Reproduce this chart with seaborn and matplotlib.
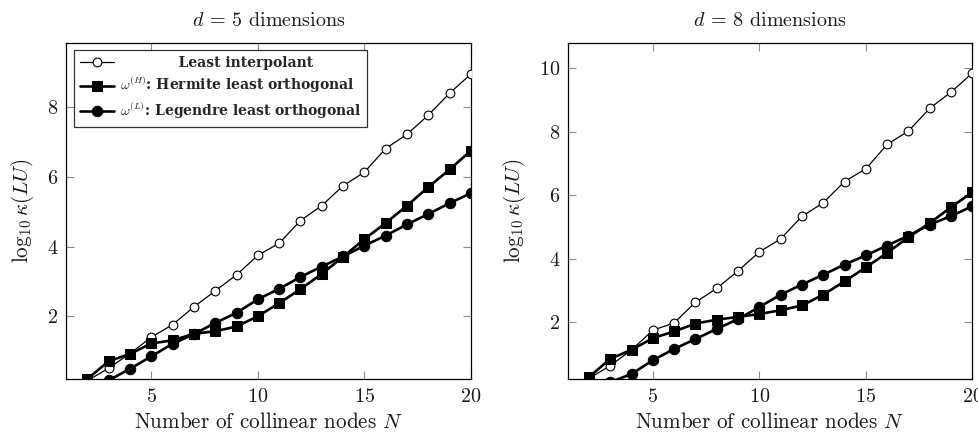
import matplotlib
matplotlib.use("Agg")
import matplotlib.pyplot as plt
import seaborn as sns
import pandas as pd

# ---------------- data ----------------
N = list(range(2, 21))
d5_interp = [0.15, 0.51, 0.93, 1.40, 1.76, 2.27, 2.73, 3.19, 3.75, 4.10,
             4.75, 5.18, 5.75, 6.14, 6.82, 7.23, 7.78, 8.41, 8.96]
d5_hermite = [0.20, 0.71, 0.92, 1.22, 1.31, 1.50, 1.57, 1.71, 2.00, 2.38,
              2.78, 3.22, 3.71, 4.22, 4.68, 5.18, 5.71, 6.22, 6.76]
d5_legendre = [-0.15, 0.16, 0.49, 0.85, 1.21, 1.49, 1.81, 2.10, 2.49, 2.79,
               3.13, 3.43, 3.72, 4.03, 4.32, 4.64, 4.94, 5.25, 5.54]

d8_interp = [0.22, 0.62, 1.12, 1.74, 1.97, 2.62, 3.06, 3.61, 4.21, 4.62,
             5.33, 5.76, 6.43, 6.83, 7.60, 8.02, 8.74, 9.25, 9.85]
d8_hermite = [0.26, 0.84, 1.12, 1.49, 1.70, 1.95, 2.07, 2.16, 2.25, 2.37,
              2.52, 2.86, 3.28, 3.72, 4.18, 4.67, 5.12, 5.62, 6.09]
d8_legendre = [-0.30, 0.10, 0.36, 0.79, 1.15, 1.46, 1.78, 2.09, 2.47, 2.86,
               3.18, 3.49, 3.81, 4.10, 4.41, 4.72, 5.07, 5.34, 5.65]

titles = [r"$d$ = 5 dimensions", r"$d$ = 8 dimensions"]
labels = ["            Least interpolant",
          r"$\omega^{(H)}$: Hermite least orthogonal",
          r"$\omega^{(L)}$: Legendre least orthogonal"]
xticks = [5, 10, 15, 20]
yticks_left = [2, 4, 6, 8]
yticks_right = [2, 4, 6, 8, 10]
ylims = [(0.2, 9.85), (0.2, 10.8)]

# ---------------- style ----------------
sns.set_theme(style="white")
plt.rcParams["font.family"] = ["cmr10", "DejaVu Serif"]
plt.rcParams["mathtext.fontset"] = "cm"
plt.rcParams["axes.formatter.use_mathtext"] = True
plt.rcParams["axes.unicode_minus"] = False

TXT = "#1a1a1a"
fig = plt.figure(figsize=(9.79, 4.34), dpi=100)
ax1 = fig.add_axes([66 / 979, 1 - 379 / 434, 405 / 979, 336 / 434])
ax2 = fig.add_axes([567.7 / 979, 1 - 379 / 434, 404.6 / 979, 336 / 434])

panels = [(ax1, d5_interp, d5_hermite, d5_legendre, yticks_left),
          (ax2, d8_interp, d8_hermite, d8_legendre, yticks_right)]

for i, (ax, yi, yh, yl, yt) in enumerate(panels):
    df = pd.DataFrame({"N": N, "interp": yi, "herm": yh, "leg": yl})
    sns.lineplot(data=df, x="N", y="interp", ax=ax, color="black", lw=0.9,
                 marker="o", markersize=6.3, markerfacecolor="white",
                 markeredgecolor="black", markeredgewidth=0.8,
                 label=labels[0], zorder=3)
    sns.lineplot(data=df, x="N", y="herm", ax=ax, color="black", lw=1.9,
                 marker="s", markersize=7, markerfacecolor="black",
                 markeredgecolor="black", label=labels[1], zorder=4)
    sns.lineplot(data=df, x="N", y="leg", ax=ax, color="black", lw=1.9,
                 marker="o", markersize=7.5, markerfacecolor="black",
                 markeredgecolor="black", label=labels[2], zorder=5)
    ax.set_xlim(1, 20)
    ax.set_ylim(*ylims[i])
    ax.set_xticks(xticks)
    ax.set_yticks(yt)
    ax.tick_params(direction="in", length=6, width=0.8, color="#8a8a8a",
                   top=True, right=True, bottom=True, left=True,
                   labelsize=14.5, labelcolor=TXT)
    ax.tick_params(axis="y", pad=5.5)
    ax.tick_params(axis="x", pad=6.5)
    for sp in ax.spines.values():
        sp.set_color("black")
        sp.set_linewidth(0.9)
    ax.set_xlabel(r"Number of collinear nodes $N$", fontsize=15.2,
                  color=TXT, labelpad=4)
    ax.set_ylabel(r"$\log_{10}\kappa(LU)$", fontsize=15.2, color=TXT,
                  labelpad=8)
    ax.set_title(titles[i], fontsize=14.5, pad=12, color=TXT)
    ax.grid(False)
    if i == 0:
        leg = ax.legend(loc="upper left", bbox_to_anchor=(0.02, 0.979),
                        frameon=True, fancybox=False, edgecolor="black",
                        prop={"family": "DejaVu Serif", "weight": "bold",
                              "size": 10},
                        handlelength=2.45, borderpad=0.4, labelspacing=0.42,
                        handletextpad=0.45, borderaxespad=0)
        leg.get_frame().set_linewidth(0.9)
    else:
        ax.get_legend().remove()

fig.savefig("out.png", dpi=100)
